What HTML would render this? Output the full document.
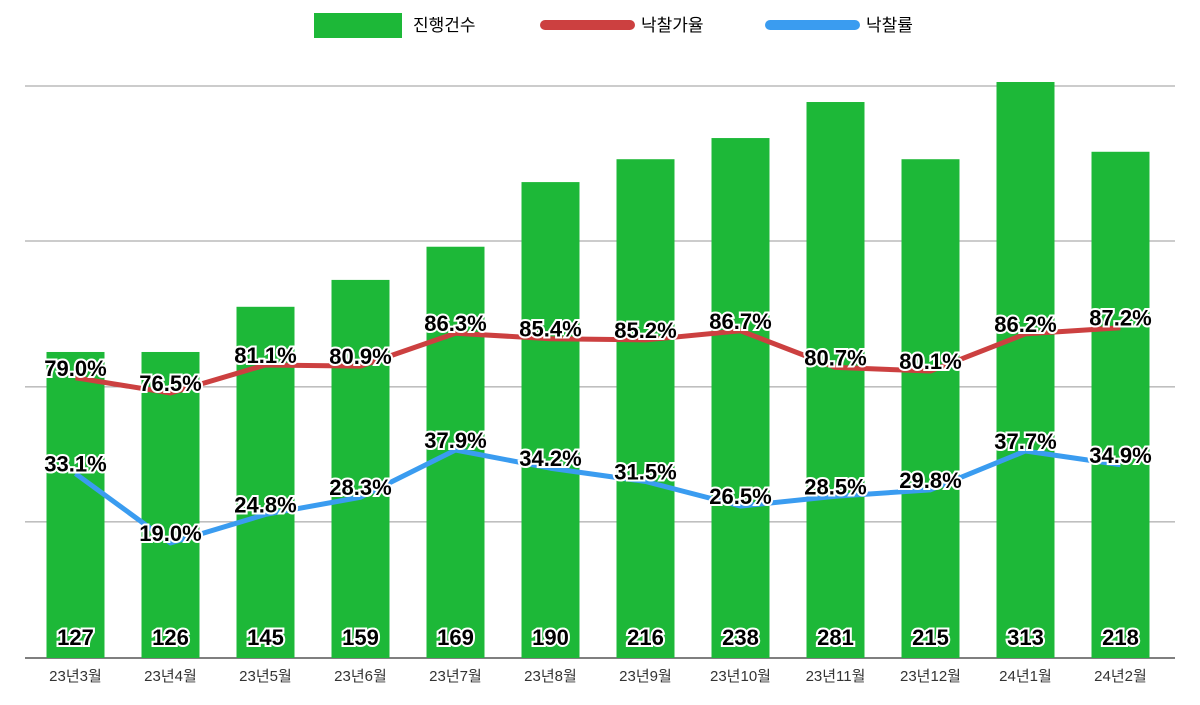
<!DOCTYPE html>
<html><head><meta charset="utf-8"><style>
body{margin:0;background:#fff;}
svg text{font-family:"Liberation Sans","Noto Sans CJK KR",sans-serif;}
.lbl{font-weight:bold;font-size:22px;fill:#000;stroke:#fff;stroke-width:4px;paint-order:stroke;text-anchor:middle;}
</style></head><body>
<svg id="c" width="1200" height="700">
<g>
<rect x="314" y="13" width="88" height="25" fill="#1db838"/>
<text x="413" y="31" font-size="17">진행건수</text>
<line x1="545" y1="25" x2="630" y2="25" stroke="#cc4040" stroke-width="10" stroke-linecap="round"/>
<text x="641" y="31" font-size="17">낙찰가율</text>
<line x1="770" y1="25" x2="855" y2="25" stroke="#3a9cf0" stroke-width="10" stroke-linecap="round"/>
<text x="866" y="31" font-size="17">낙찰률</text>
</g>
</svg>
<script>
const categories=["23년3월","23년4월","23년5월","23년6월","23년7월","23년8월","23년9월","23년10월","23년11월","23년12월","24년1월","24년2월"];
const barValues=[53.5,53.5,61.4,66.1,71.9,83.2,87.2,90.9,97.2,87.2,100.7,88.5];
const countLabels=[127,126,145,159,169,190,216,238,281,215,313,218];
const priceRate=[79.0,76.5,81.1,80.9,86.3,85.4,85.2,86.7,80.7,80.1,86.2,87.2];
const winRate=[33.1,19.0,24.8,28.3,37.9,34.2,31.5,26.5,28.5,29.8,37.7,34.9];
const gridTicks=[0,23.8,47.4,72.9,100];
const NS="http://www.w3.org/2000/svg";
const svg=document.getElementById('c');
const left=28,right=1168,base=658;
const band=(right-left)/categories.length;
const xC=i=>left+band*(i+0.5);
const yBar=v=>base-v*5.72;
const yPrice=v=>393-(v-76.5)*6.1;
const yWin=v=>543-(v-19)*4.92;
function mk(t,a,p){const e=document.createElementNS(NS,t);for(const k in a)e.setAttribute(k,a[k]);(p||svg).appendChild(e);return e;}
gridTicks.forEach(t=>{
 const l=mk('line',{x1:25,x2:1175,y1:yBar(t),y2:yBar(t),stroke:t===0?'#555':'#999','stroke-width':t===0?1.5:1});
 
 
});
barValues.forEach((v,i)=>{
 const r=mk('rect',{x:xC(i)-29,y:yBar(v),width:58,height:base-yBar(v),fill:'#1db838'});
 
 
 const t=mk('text',{x:xC(i),y:645,class:'lbl','font-size':22,stroke:'none'});
 t.textContent=countLabels[i];
 
 
 const c=mk('text',{x:xC(i),y:681,'font-size':15,'text-anchor':'middle',fill:'#333'});
 c.textContent=categories[i];
 
 
});
function line(data,yf,color,name){
 const p=mk('polyline',{points:data.map((v,i)=>xC(i)+','+yf(v)).join(' '),fill:'none',stroke:color,'stroke-width':5,'stroke-linejoin':'round'});
 
 
}
function labels(data,yf,name){
 data.forEach((v,i)=>{
  const t=mk('text',{x:xC(i),y:yf(v)-2,class:'lbl'});
  t.textContent=v.toFixed(1)+'%';
  
  
 });
}
line(priceRate,yPrice,'#cc4040','price-rate');
line(winRate,yWin,'#3a9cf0','win-rate');
labels(priceRate,yPrice,'price-rate');
labels(winRate,yWin,'win-rate');
</script>
</body></html>
